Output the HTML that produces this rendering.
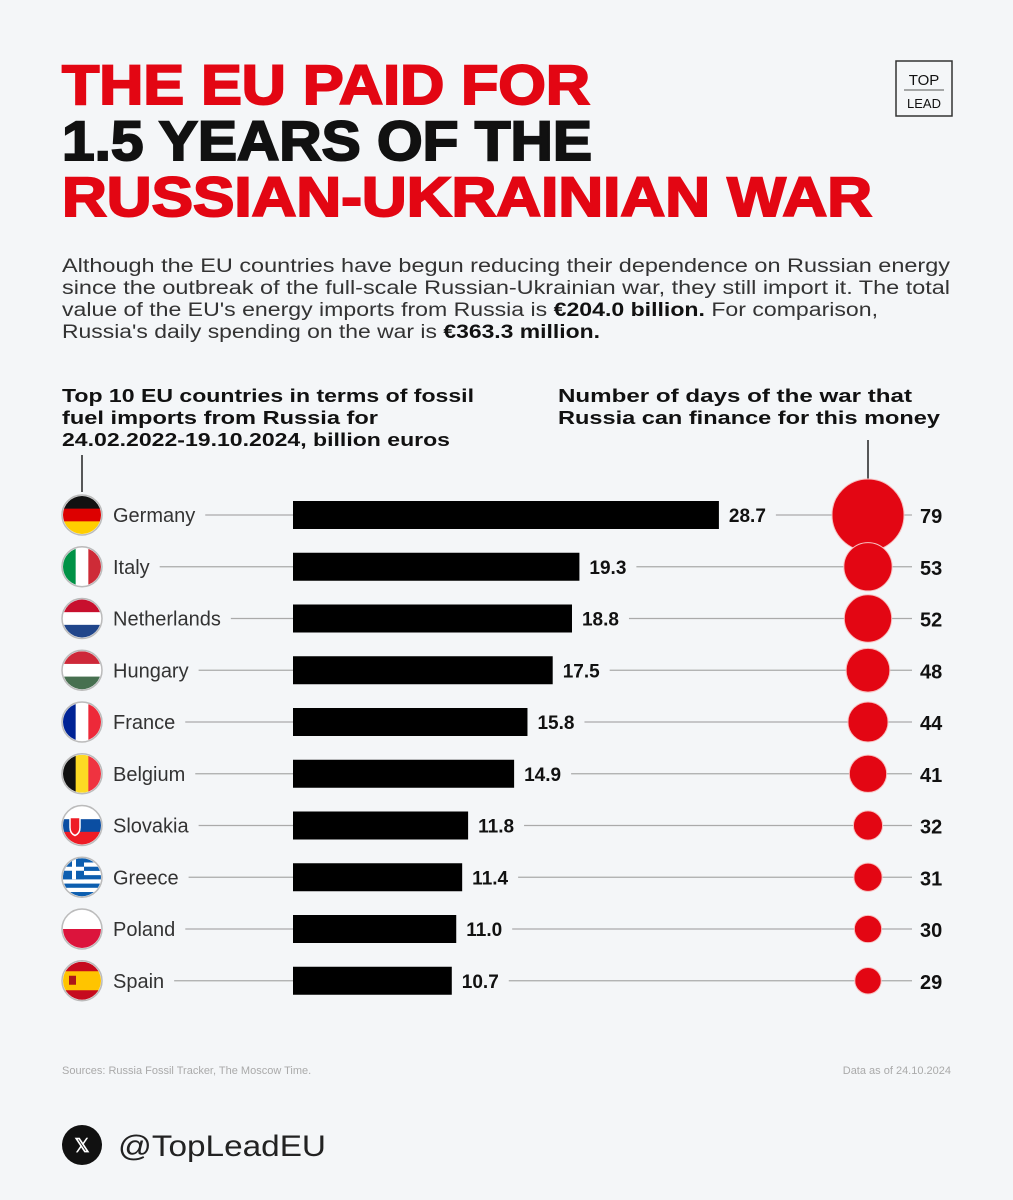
<!DOCTYPE html>
<html><head><meta charset="utf-8"><style>
html,body{margin:0;padding:0;background:#f4f6f8;}
svg{display:block;font-family:"Liberation Sans",sans-serif;}
</style></head><body>
<svg id="c" width="1013" height="1200" viewBox="0 0 1013 1200">
<rect width="1013" height="1200" fill="#f4f6f8"/>
<g font-weight="900" font-size="56" stroke-width="2">
<text x="62" y="104" fill="#e30613" stroke="#e30613" textLength="528" lengthAdjust="spacingAndGlyphs">THE EU PAID FOR</text>
<text x="62" y="160" fill="#111" stroke="#111" textLength="530" lengthAdjust="spacingAndGlyphs">1.5 YEARS OF THE</text>
<text x="62" y="216" fill="#e30613" stroke="#e30613" textLength="810" lengthAdjust="spacingAndGlyphs">RUSSIAN-UKRAINIAN WAR</text>
</g>
<g>
<rect x="896" y="61" width="56" height="55" fill="none" stroke="#333" stroke-width="1.5"/>
<text x="924" y="85" font-size="15" text-anchor="middle" fill="#111">TOP</text>
<line x1="904" y1="90" x2="944" y2="90" stroke="#555"/>
<text x="924" y="108" font-size="13" text-anchor="middle" fill="#111">LEAD</text>
</g>
<g font-size="19" fill="#333">
<text x="62" y="272" textLength="888" lengthAdjust="spacingAndGlyphs">Although the EU countries have begun reducing their dependence on Russian energy</text>
<text x="62" y="294" textLength="888" lengthAdjust="spacingAndGlyphs">since the outbreak of the full-scale Russian-Ukrainian war, they still import it. The total</text>
<text x="62" y="316" textLength="816" lengthAdjust="spacingAndGlyphs">value of the EU's energy imports from Russia is <tspan font-weight="bold" fill="#111">€204.0 billion.</tspan> For comparison,</text>
<text x="62" y="338" textLength="538" lengthAdjust="spacingAndGlyphs">Russia's daily spending on the war is <tspan font-weight="bold" fill="#111">€363.3 million.</tspan></text>
</g>
<g font-size="18.5" font-weight="bold" fill="#111">
<text x="62" y="402" textLength="412" lengthAdjust="spacingAndGlyphs">Top 10 EU countries in terms of fossil</text>
<text x="62" y="424" textLength="316" lengthAdjust="spacingAndGlyphs">fuel imports from Russia for</text>
<text x="62" y="446" textLength="388" lengthAdjust="spacingAndGlyphs">24.02.2022-19.10.2024, billion euros</text>
</g>
<g font-size="18.5" font-weight="bold" fill="#111">
<text x="558" y="402" textLength="354" lengthAdjust="spacingAndGlyphs">Number of days of the war that</text>
<text x="558" y="424" textLength="382" lengthAdjust="spacingAndGlyphs">Russia can finance for this money</text>
</g>
<line x1="82" y1="455" x2="82" y2="492" stroke="#222" stroke-width="1.5"/>
<line x1="868" y1="440" x2="868" y2="479" stroke="#222" stroke-width="1.5"/>
<g id="chart"></g>
<text x="62" y="1074" font-size="11" fill="#aaa">Sources: Russia Fossil Tracker, The Moscow Time.</text>
<text x="951" y="1074" font-size="11" fill="#aaa" text-anchor="end">Data as of 24.10.2024</text>
<g>
<circle cx="82" cy="1145" r="20" fill="#111"/>
<text x="82" y="1152" font-size="19" fill="#fff" text-anchor="middle" font-weight="bold">𝕏</text>
<text x="118" y="1156" font-size="30" fill="#222" textLength="208" lengthAdjust="spacingAndGlyphs">@TopLeadEU</text>
</g>
</svg>
<script>
const countries=["Germany","Italy","Netherlands","Hungary","France","Belgium","Slovakia","Greece","Poland","Spain"];
const imports=[28.7,19.3,18.8,17.5,15.8,14.9,11.8,11.4,11.0,10.7];
const days=[79,53,52,48,44,41,32,31,30,29];
const NS="http://www.w3.org/2000/svg";
const g=document.getElementById('chart');
const x0=293, xs=v=>x0+v*14.84;
const yc=i=>515+i*51.75;
const rs=v=>36*v/79;
const cx=868;
function el(t,a,p){const e=document.createElementNS(NS,t);for(const k in a)e.setAttribute(k,a[k]);(p||g).appendChild(e);return e;}
const flags={
Germany:{h:["#111","#dd0000","#ffce00"]},Netherlands:{h:["#c8102e","#fff","#21468b"]},Hungary:{h:["#ce2939","#fff","#477050"]},
Italy:{v:["#009246","#fff","#ce2b37"]},France:{v:["#002395","#fff","#ed2939"]},Belgium:{v:["#111","#fdda24","#ef3340"]},
Slovakia:{h:["#fff","#0b4ea2","#ee1c25"]},Poland:{h:["#fff","#fff","#dc143c"],two:true},Spain:{h:["#c60b1e","#ffc400","#c60b1e"],sp:true},Greece:{gr:true}};
const defs=el('defs',{},document.getElementById('c'));
countries.forEach((c,i)=>{
  const y=yc(i);
  const row=el('g',{});
  
  
  const cp=el('clipPath',{id:'cp'+i},defs);el('circle',{cx:82,cy:y,r:19},cp);
  const fg=el('g',{'clip-path':'url(#cp'+i+')'},row);
  
  
  const f=flags[c];
  if(f.gr){for(let k=0;k<9;k++)el('rect',{x:63,y:y-19+k*38/9,width:38,height:38/9+0.3,fill:k%2?"#fff":"#0d5eaf"},fg);
    el('rect',{x:63,y:y-19,width:21,height:21,fill:"#0d5eaf"},fg);el('rect',{x:72,y:y-19,width:4,height:21,fill:"#fff"},fg);el('rect',{x:63,y:y-10.5,width:21,height:4,fill:"#fff"},fg);}
  else if(f.h){const hs=f.two?[19,19]:(f.sp?[9.5,19,9.5]:[12.67,12.67,12.67]);let yy=y-19;
    (f.two?["#fff","#dc143c"]:f.h).forEach((col,k)=>{el('rect',{x:63,y:yy,width:38,height:hs[k]+0.3,fill:col},fg);yy+=hs[k];});
    if(c==="Slovakia")el('path',{d:`M70 ${y-8} h10 v10 q0 6 -5 8 q-5 -2 -5 -8z`,fill:"#ee1c25",stroke:"#fff","stroke-width":1.5},fg);
    if(f.sp)el('rect',{x:69,y:y-5,width:7,height:9,fill:"#ad1519"},fg);}
  else{f.v.forEach((col,k)=>el('rect',{x:63+k*12.67,y:y-19,width:12.97,height:38,fill:col},fg));}
  el('circle',{cx:82,cy:y,r:20,fill:"none",stroke:"#bbb","stroke-width":1.5},row);
  const nm=el('text',{x:113,y:y+7,'font-size':20,fill:"#333"},row);nm.textContent=c;
  
  
  const nw=nm.getComputedTextLength();
  el('line',{x1:113+nw+10,y1:y,x2:x0,y2:y,stroke:"#aaa","stroke-width":1.2},row);
  const b=el('rect',{x:x0,y:y-14,width:xs(imports[i])-x0,height:28,fill:"#000"},row);
  
  
  const vl=el('text',{x:xs(imports[i])+10,y:y+7,'font-size':19,'font-weight':'bold',fill:"#111"},row);vl.textContent=imports[i].toFixed(1);
  
  
  const r=rs(days[i]);
  el('line',{x1:xs(imports[i])+10+vl.getComputedTextLength()+10,y1:y,x2:cx-r,y2:y,stroke:"#aaa","stroke-width":1.2},row);
  el('line',{x1:cx+r,y1:y,x2:912,y2:y,stroke:"#aaa","stroke-width":1.2},row);
  const ci=el('circle',{cx:cx,cy:y,r:r,fill:"#e30613",stroke:"#f7c0c0","stroke-width":1},row);
  
  
  const dl=el('text',{x:920,y:y+8,'font-size':20,'font-weight':'bold',fill:"#111"},row);dl.textContent=days[i];
  
  
});
</script>
</body></html>
